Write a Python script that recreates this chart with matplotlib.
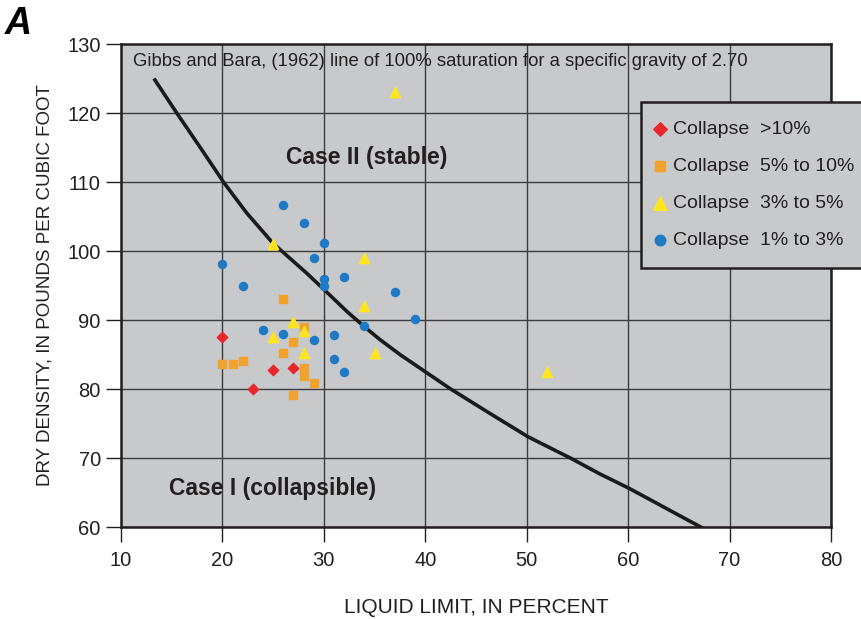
import matplotlib

matplotlib.use("Agg")
import matplotlib.pyplot as plt

plt.rcParams["font.family"] = ["Liberation Sans", "DejaVu Sans"]

# Collapse classes: liquid limit (%) and dry density (pcf)
gt10_ll = [20, 25, 27, 23]
gt10_dd = [87.6, 82.7, 83.0, 80.0]

p5_10_ll = [26, 28, 27, 26, 20, 21, 22, 28, 28, 29, 27]
p5_10_dd = [93.0, 89.0, 86.8, 85.2, 83.6, 83.6, 84.0, 83.1, 81.9, 80.9, 79.1]

p3_5_ll = [25, 34, 34, 27, 28, 25, 28, 35, 37, 52]
p3_5_dd = [101.0, 99.0, 92.0, 89.7, 88.4, 87.6, 85.2, 85.2, 123.0, 82.5]

p1_3_ll = [26, 28, 30, 29, 20, 30, 30, 32, 22, 37, 39, 34, 24, 26, 29, 31, 31, 32]
p1_3_dd = [106.7, 104.0, 101.1, 99.0, 98.1, 96.0, 95.0, 96.2, 94.9, 94.1,
           90.2, 89.1, 88.5, 88.0, 87.1, 87.8, 84.3, 82.4]

# Gibbs and Bara (1962) 100% saturation line
sat_ll = [13.25, 15.5, 18.0, 20.1, 22.4, 25.0, 28.3, 30.1, 32.3, 34.1, 35.5,
          37.5, 40.1, 42.4, 46.0, 50.1, 54.3, 57.2, 60.1, 63.5, 67.4]
sat_dd = [125.0, 120.0, 114.6, 110.0, 105.5, 101.1, 96.8, 94.3, 91.2, 88.9, 87.2,
          85.0, 82.4, 80.1, 76.8, 73.1, 70.0, 67.7, 65.6, 62.9, 59.8]

x_ticks = [10, 20, 30, 40, 50, 60, 70, 80]
y_ticks = [60, 70, 80, 90, 100, 110, 120, 130]

ink = "#231f20"
panel = "#c8c9cb"

fig = plt.figure(figsize=(8.61, 6.19), dpi=100)
ax = fig.add_axes([0.1405, 0.1486, 0.8247, 0.7803])
ax.set_facecolor(panel)

ax.set_xlim(10, 80)
ax.set_ylim(60, 130)
ax.set_xticks(x_ticks)
ax.set_yticks(y_ticks)
ax.grid(True, color="#3c3c3c", linewidth=1.0)
ax.set_axisbelow(True)
for s in ax.spines.values():
    s.set_color(ink)
    s.set_linewidth(1.8)
ax.tick_params(direction="out", length=10.5, width=1.0, colors=ink,
               labelsize=14.5, labelcolor=ink)
ax.tick_params(axis="x", pad=7)
ax.tick_params(axis="y", pad=4)

ax.plot(sat_ll, sat_dd, color="#1a1a1a", linewidth=2.6,
        solid_capstyle="butt", solid_joinstyle="round", zorder=3)

ax.scatter(gt10_ll, gt10_dd, marker="D", s=28, color="#e8262b", zorder=4,
           label="Collapse  >10%")
ax.scatter(p5_10_ll, p5_10_dd, marker="s", s=30, color="#f0a12e", zorder=4,
           label="Collapse  5% to 10%")
ax.scatter(p3_5_ll, p3_5_dd, marker="^", s=55, color="#ffe51f", zorder=4,
           label="Collapse  3% to 5%")
ax.scatter(p1_3_ll, p1_3_dd, marker="o", s=34, color="#1f7ac6", zorder=4,
           label="Collapse  1% to 3%")

ax.text(11.2, 127.4,
        "Gibbs and Bara, (1962) line of 100% saturation for a specific gravity of 2.70",
        fontsize=13.3, color=ink, va="center", ha="left")
ax.text(34.2, 113.5, "Case II (stable)", fontsize=16.5, fontweight="bold",
        color=ink, ha="center", va="center")
ax.text(24.9, 65.6, "Case I (collapsible)", fontsize=16.5, fontweight="bold",
        color=ink, ha="center", va="center")

leg = ax.legend(loc="upper left", bbox_to_anchor=(0.732, 0.88), fontsize=14,
                frameon=True, fancybox=False, facecolor=panel, edgecolor=ink,
                framealpha=1, labelspacing=1.0, handletextpad=0.62,
                borderpad=0.95, handlelength=0.1, borderaxespad=0,
                markerscale=1.3)
leg.get_frame().set_linewidth(1.8)
for t in leg.get_texts():
    t.set_color(ink)

ax.set_xlabel("LIQUID LIMIT, IN PERCENT", fontsize=15, color=ink, labelpad=20)
ax.set_ylabel("DRY DENSITY, IN POUNDS PER CUBIC FOOT", fontsize=13.5, color=ink,
              labelpad=10)

fig.text(0.006, 0.962, "A", fontsize=27, fontweight="bold", fontstyle="italic",
         color="black", va="center", ha="left")

fig.savefig("out.png", dpi=100)
